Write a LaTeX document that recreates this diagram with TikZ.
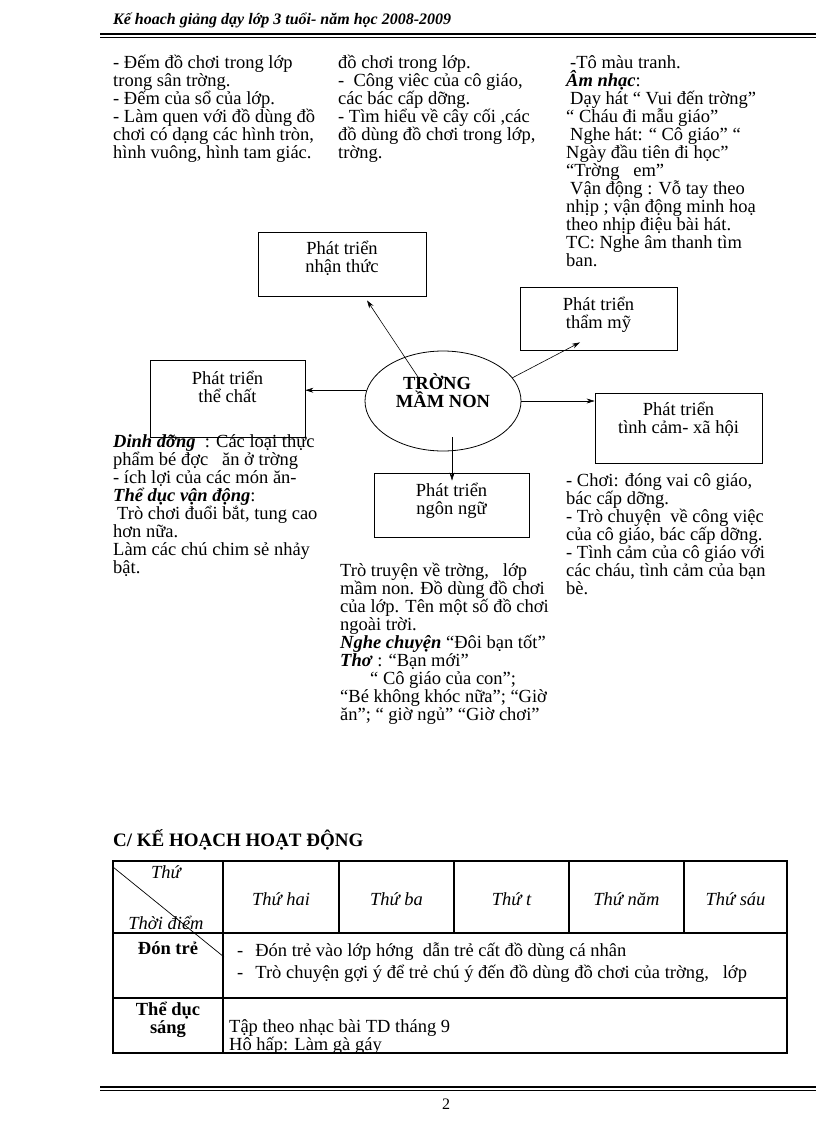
\documentclass[tikz,border=0pt]{standalone}
\usepackage{fontspec}
\setmainfont{Liberation Serif}
\usetikzlibrary{arrows.meta,positioning,shapes.geometric,calc}

\newcommand{\body}{\fontsize{18.5}{18}\selectfont}
\newcommand{\fstrut}{\rule{0pt}{16pt}}
\newcommand{\bitext}[1]{\textbf{\textit{#1}}}

\begin{document}
\begin{tikzpicture}[
        x=1pt, y=-1pt,
        col/.style = {anchor=north west, inner sep=0pt, align=left, font=\body},
        box/.style = {rectangle, draw, line width=0.8pt, align=center, font=\body, inner sep=0pt},
        hub/.style = {ellipse, draw, line width=0.8pt, align=center, font=\body\bfseries, minimum width=156pt, minimum height=100pt, inner sep=0pt, text depth=20pt},
        arr/.style = {-{Stealth[length=8pt,width=5pt]}, line width=0.6pt},
        tabline/.style = {line width=1.2pt},
        cell/.style = {anchor=base, inner sep=0pt, font=\body\itshape},
        rowhead/.style = {anchor=base, inner sep=0pt, font=\body\bfseries}
    ]
    \useasboundingbox (0,0) rectangle (816,1123);

    % Tieu de trang
    \node [anchor=base west, inner sep=0pt, font=\fontsize{16}{16}\selectfont\bfseries\itshape] (title) at (113,25) {Kế hoach giảng dạy lớp 3 tuổi- năm học 2008-2009};
    \draw [line width=1.6pt] (100,34) -- (816,34);
    \draw [line width=0.6pt] (100,37.5) -- (816,37.5);

    % Ba cot noi dung phia tren
    \node [col] (toan) at (113,52) {\fstrut- Đếm đồ chơi trong lớp\\ trong sân trờng.\\ - Đếm của sổ của lớp.\\ - Làm quen với đồ dùng đồ\\ chơi có dạng các hình tròn,\\ hình vuông, hình tam giác.};
    \node [col] (mtxq) at (338,52) {\fstrut đồ chơi trong lớp.\\ -\ \ Công viêc của cô giáo,\\ các bác cấp dỡng.\\ - Tìm hiểu về cây cối ,các\\ đồ dùng đồ chơi trong lớp,\\ trờng.};
    \node [col] (amnhac) at (566,52) {\fstrut\hspace*{4pt}-Tô màu tranh.\\ \bitext{Âm nhạc}:\\ \hspace*{4pt}Dạy hát “ Vui đến trờng”\\ “ Cháu đi mẫu giáo”\\ \hspace*{4pt}Nghe hát: “ Cô giáo” “\\ Ngày đầu tiên đi học”\\ “Trờng\ \ \ em”\\ \hspace*{4pt}Vận động : Vỗ tay theo\\ nhịp ; vận động minh hoạ\\ theo nhịp điệu bài hát.\\ TC: Nghe âm thanh tìm\\ ban.};

    % Cac khoi phat trien
    \node [box, minimum width=168pt, minimum height=64pt, text depth=15pt] (nhanthuc) at (342,264) {Phát triển\\ nhận thức};
    \node [box, minimum width=157pt, minimum height=63pt, text depth=12pt] (thammy) at (598.5,318.5) {Phát triển\\ thẩm mỹ};
    \node [box, minimum width=155pt, minimum height=77pt, text depth=24pt] (thechat) at (227.5,398.5) {Phát triển\\ thể chất};
    \node [box, minimum width=167pt, minimum height=70pt, text depth=21pt] (tinhcam) at (678.5,428) {Phát triển\\ tình cảm- xã hội};
    \node [box, minimum width=155pt, minimum height=64pt, text depth=13pt] (ngonngu) at (451.5,505) {Phát triển\\ ngôn ngữ};

    % Nut trung tam
    \node [hub] (truong) at (443,401) {TRỜNG\hspace*{12pt}\\ MẦM NON};

    % Mui ten toa ra
    \draw [arr] ($(truong.center)+(-23,-21)$) -- ($(nhanthuc.south)+(25,4)$);
    \draw [arr] ($(truong.center)+(69,-23)$) -- ($(thammy.south)+(-18.5,-8)$);
    \draw [arr] (truong.172) -- (truong.172 -| thechat.east);
    \draw [arr] (truong.east) -- (truong.east -| tinhcam.west);
    \draw [arr] ($(truong.center)+(9,36)$) -- ($(ngonngu.north)+(0.5,8)$);

    % Noi dung duoi cac khoi
    \node [col] (thechatnd) at (113,431) {\fstrut\bitext{Dinh dỡng}\ \ : Các loại thực\\ phẩm bé đợc\ \ \ ăn ở trờng\\ - ích lợi của các món ăn-\\ \bitext{Thể dục vận động}:\\ \hspace*{4pt}Trò chơi đuổi bắt, tung cao\\ hơn nữa.\\ Làm các chú chim sẻ nhảy\\ bật.};
    \node [col] (ngonngund) at (340,560) {\fstrut Trò truyện về trờng,\ \ \ lớp\\ mầm non. Đồ dùng đồ chơi\\ của lớp. Tên một số đồ chơi\\ ngoài trời.\\ \bitext{Nghe chuyện} “Đôi bạn tốt”\\ \bitext{Thơ} : “Bạn mới”\\ \hspace*{30pt}“ Cô giáo của con”;\\ “Bé không khóc nữa”; “Giờ\\ ăn”; “ giờ ngủ” “Giờ chơi”};
    \node [col] (tinhcamnd) at (566,470) {\fstrut- Chơi: đóng vai cô giáo,\\ bác cấp dỡng.\\ - Trò chuyện\ \ về công việc\\ của cô giáo, bác cấp dỡng.\\ - Tình cảm của cô giáo với\\ các cháu, tình cảm của bạn\\ bè.};

    % Bang ke hoach hoat dong
    \node [anchor=base west, inner sep=0pt, font=\fontsize{19}{19}\selectfont\bfseries] (kehoach) at (113,846) {C/ KẾ HOẠCH HOẠT ĐỘNG};
    \draw [tabline] (113,861) rectangle (787,1053);
    \draw [tabline] (113,933) -- (787,933);
    \draw [tabline] (113,998) -- (787,998);
    \draw [tabline] (223,861) -- (223,1053);
    \foreach \xc in {339,454,569,684}
        \draw [tabline] (\xc,861) -- (\xc,933);
    \draw [line width=0.7pt] (113,867) -- (224,957);

    \node [cell] (thu) at (166,878) {Thứ};
    \node [cell] (thoidiem) at (166,929) {Thời điểm};
    \foreach \d/\xa/\xb [count=\i] in {Thứ hai/223/339, Thứ ba/339/454, Thứ t/454/569, Thứ năm/569/684, Thứ sáu/684/787}
        \node [cell] (day\i) at ({(\xa+\xb)/2},905) {\d};

    \node [rowhead] (dontre) at (168,954) {Đón trẻ};
    \node [anchor=base west, inner sep=0pt, font=\body] (dt1) at (237,956) {-\hspace{12pt}Đón trẻ vào lớp hớng\ \ dẫn trẻ cất đồ dùng cá nhân};
    \node [anchor=base west, inner sep=0pt, font=\body] (dt2) at (237,978) {-\hspace{12pt}Trò chuyện gợi ý để trẻ chú ý đến đồ dùng đồ chơi của trờng,\ \ \ lớp};

    \node [rowhead, align=center, anchor=north] (theduc) at (168,1002) {Thể dục\\ sáng};
    \begin{scope}
        \clip (223,998) rectangle (787,1053);
        \node [anchor=base west, inner sep=0pt, align=left, font=\body] (td) at (229,1032) {Tập theo nhạc bài TD tháng 9};
        \node [anchor=base west, inner sep=0pt, align=left, font=\body] (hh) at (229,1050) {Hô hấp: Làm gà gáy};
    \end{scope}

    % Chan trang
    \draw [line width=1.6pt] (100,1087) -- (816,1087);
    \draw [line width=0.6pt] (100,1090.5) -- (816,1090.5);
    \node [anchor=base, inner sep=0pt, font=\fontsize{16}{16}\selectfont] (trang) at (446,1109) {2};
\end{tikzpicture}
\end{document}
